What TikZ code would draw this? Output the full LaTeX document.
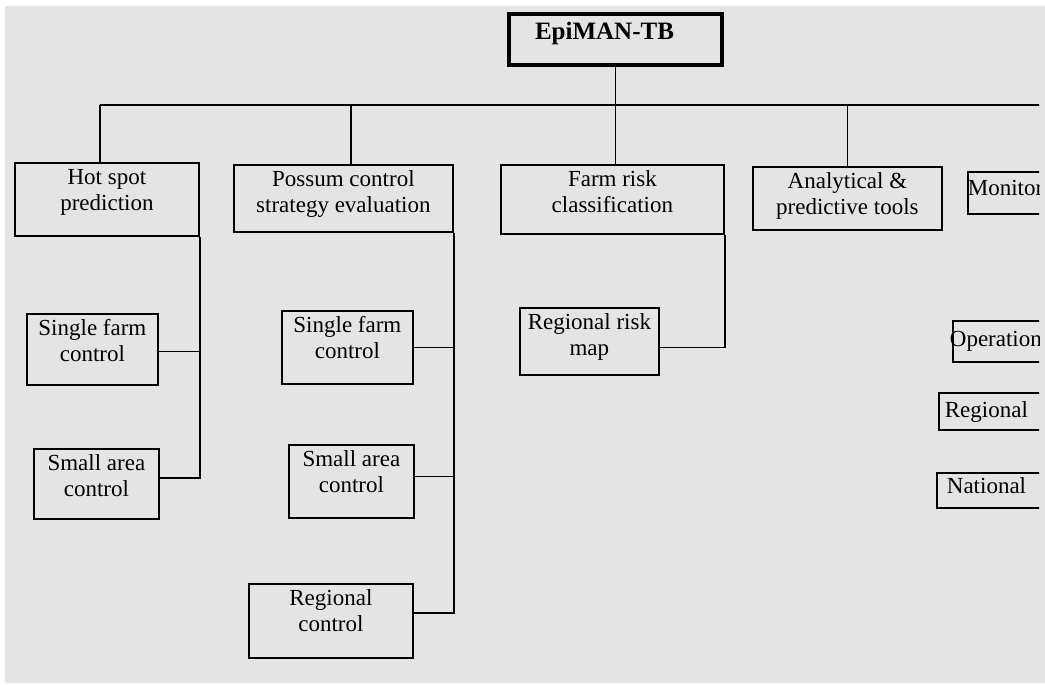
\documentclass[tikz,border=0pt]{standalone}
\usepackage{fontspec}
\setmainfont{Liberation Serif}
\definecolor{paper}{RGB}{228,228,228}

\begin{document}
\begin{tikzpicture}[x=1pt, y=-1pt,
  box/.style={draw, line width=1.8pt, anchor=north west, align=center,
    inner xsep=2pt, inner ysep=0pt, text height=48pt,
    font=\fontsize{23}{26}\selectfont},
  tag/.style={draw, line width=1.8pt, anchor=north west, text width=150pt,
    align=left, inner ysep=0pt, font=\fontsize{23}{26}\selectfont},
  wire/.style={line width=1.8pt}]
  \fill [paper] (5,6) rectangle (1045,683);
  \useasboundingbox (0,0) rectangle (1045,685);
  \begin{scope}
  \clip (0,0) rectangle (1039,685);

  \node (epiman) [box, line width=4pt, inner xsep=0pt, text height=26pt, text depth=25pt,
    minimum width=213pt, font=\fontsize{25}{30}\selectfont\bfseries] at (507,12) {EpiMAN-TB\hspace*{22pt}};

  \node (hotspot) [box, minimum width=184pt, text depth=25pt] at (14,162) {Hot spot\\prediction};
  \node (possum) [box, minimum width=219pt, text depth=19pt] at (233,164) {Possum control\\strategy evaluation};
  \node (farmrisk) [box, minimum width=223pt, text depth=21pt] at (500,164) {Farm risk\\classification};
  \node (tools) [box, minimum width=189pt, text depth=15pt] at (752,166) {Analytical \&\\predictive tools};

  \node (hsingle) [box, minimum width=131pt, text depth=23pt] at (26,313) {Single farm\\control};
  \node (hsmall) [box, minimum width=125pt, text depth=22pt] at (33,448) {Small area\\control};
  \node (psingle) [box, minimum width=131pt, text depth=25pt] at (281,310) {Single farm\\control};
  \node (psmall) [box, minimum width=125pt, text depth=25pt] at (288,444) {Small area\\control};
  \node (pregional) [box, minimum width=164pt, text depth=26pt] at (248,583) {Regional\\control};
  \node (riskmap) [box, minimum width=139pt, text depth=19pt] at (519,307) {Regional risk\\map};

  \node (monitor) [tag, inner xsep=0pt, text height=24pt, text depth=18pt] at (967,171) {Monitor};
  \node (operation) [tag, inner xsep=-3pt, text height=26pt, text depth=15pt] at (952,320) {Operation};
  \node (regional) [tag, inner xsep=6pt, text height=25pt, text depth=12pt] at (938,392) {Regional};
  \node (national) [tag, inner xsep=10pt, text height=21pt, text depth=14pt] at (936,472) {National};

  \coordinate (busw) at (100,105);
  \coordinate (buse) at (1045,105);
  \coordinate (drop2) at (351,105);

  \draw [wire] (busw) -- (buse);
  \draw [wire] (epiman) -- (epiman |- busw);
  \draw [wire] (busw) -- (busw |- hotspot.north);
  \draw [wire] (drop2) -- (drop2 |- possum.north);
  \draw [wire] (epiman |- busw) -- (epiman |- farmrisk.north);
  \draw [wire] (tools.north |- busw) -- (tools.north);

  \draw [wire] (hotspot.south east) |- ([yshift=6pt]hsmall.east);
  \draw [wire] ([yshift=-2pt]hsingle.east) -- ([yshift=-2pt]hsingle.east -| hotspot.south east);
  \draw [wire] (possum.south east) |- ([yshift=8pt]pregional.east);
  \draw [wire] (psingle.east) -- (psingle.east -| possum.south east);
  \draw [wire] ([yshift=5pt]psmall.east) -- ([yshift=5pt]psmall.east -| possum.south east);
  \draw [wire] (farmrisk.south east) |- ([yshift=-6pt]riskmap.east);
  \end{scope}
\end{tikzpicture}
\end{document}
